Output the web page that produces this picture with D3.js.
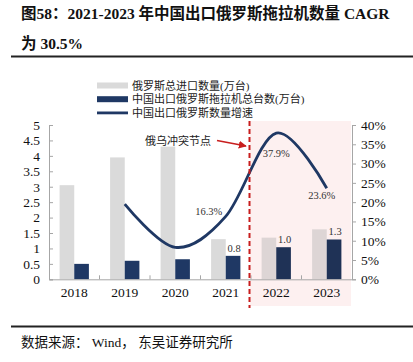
<!DOCTYPE html>
<html>
<head>
<meta charset="utf-8">
<script src="https://cdn.jsdelivr.net/npm/d3@7"></script>
<style>
  body { margin: 0; background: #fff; }
  svg text { font-family: "Liberation Serif", "Noto Sans CJK SC", serif; }
</style>
</head>
<body>
<div id="chart"></div>
<script>
// data
var years = ["2018", "2019", "2020", "2021", "2022", "2023"];
var russiaImports = [3.05, 3.95, 4.3, 1.3, 1.35, 1.62];      // 万台
var chinaExports = [0.5, 0.6, 0.65, 0.76, 1.04, 1.29];       // 万台
var exportLabels = [null, null, null, "0.8", "1.0", "1.3"];
var growthYears = ["2019", "2020", "2021", "2022", "2023"];
var growth = [0.195, 0.083, 0.163, 0.379, 0.236];
var growthLabels = [null, null, "16.3%", "37.9%", "23.6%"];
var leftTicks = [0, 0.5, 1, 1.5, 2, 2.5, 3, 3.5, 4, 4.5, 5];
var rightTicks = [0, 0.05, 0.1, 0.15, 0.2, 0.25, 0.3, 0.35, 0.4];
var legendNames = ["俄罗斯总进口数量(万台)", "中国出口俄罗斯拖拉机总台数(万台)", "中国出口俄罗斯数量增速"];

var W = 413, H = 362;
var grey = "#dadada", navy = "#1f3864", red = "#c81e1e";

var svg = d3.select("#chart").append("svg")
    .attr("width", W).attr("height", H);

// title
var title = svg.append("g").attr("font-weight", "bold").attr("fill", "#111").attr("font-size", 15.5);
title.append("text").attr("x", 21).attr("y", 19).text("图58：2021-2023 年中国出口俄罗斯拖拉机数量 CAGR");
title.append("text").attr("x", 21).attr("y", 49).text("为 30.5%");
svg.append("line").attr("x1", 11).attr("x2", W).attr("y1", 56.5).attr("y2", 56.5)
    .attr("stroke", "#222").attr("stroke-width", 2);

// scales
var x = d3.scaleBand().domain(years).range([49, 352]);
var yL = d3.scaleLinear().domain([0, 5]).range([279.3, 125]);
var yR = d3.scaleLinear().domain([0, 0.4]).range([279.3, 125]);
var barW = x.bandwidth() * 0.29;
function cx(d) { return x(d) + x.bandwidth() / 2; }

// shaded period after the conflict
svg.append("rect").attr("x", 250).attr("y", 121).attr("width", 101).attr("height", 185)
    .attr("fill", "#fdf0f0");

// bars
svg.append("g").selectAll("rect").data(years).enter().append("rect")
    .attr("x", function(d) { return cx(d) - barW; })
    .attr("y", function(d, i) { return yL(russiaImports[i]); })
    .attr("width", barW)
    .attr("height", function(d, i) { return yL(0) - yL(russiaImports[i]); })
    .attr("fill", function(d) { return +d >= 2022 ? "#ddd5d5" : grey; });

svg.append("g").selectAll("rect").data(years).enter().append("rect")
    .attr("x", function(d) { return cx(d); })
    .attr("y", function(d, i) { return yL(chinaExports[i]); })
    .attr("width", barW)
    .attr("height", function(d, i) { return yL(0) - yL(chinaExports[i]); })
    .attr("fill", function(d) { return +d >= 2022 ? "#1f3256" : navy; });

svg.append("g").selectAll("text").data(years).enter().append("text")
    .filter(function(d, i) { return exportLabels[i]; })
    .attr("x", function(d) { return cx(d) + barW / 2 + 1; })
    .attr("y", function(d) { return yL(chinaExports[years.indexOf(d)]) - 4; })
    .attr("text-anchor", "middle").attr("font-size", 10.5).attr("fill", "#333")
    .text(function(d) { return exportLabels[years.indexOf(d)]; });

// axes
var axL = svg.append("g").attr("transform", "translate(49,0)")
    .call(d3.axisRight(yL).tickValues(leftTicks).tickSize(4).tickFormat(d3.format("")));
axL.selectAll("text").attr("x", -9).attr("text-anchor", "end");
var axR = svg.append("g").attr("transform", "translate(352,0)")
    .call(d3.axisRight(yR).tickValues(rightTicks).tickSize(4).tickFormat(d3.format(".0%")));
axR.selectAll("text").attr("x", 9);
var axB = svg.append("g").attr("transform", "translate(0,279.3)")
    .call(d3.axisBottom(x).tickSize(0));
axB.selectAll("text").attr("dy", "1.05em").attr("y", 4);
// category separators
axB.selectAll(".sep").data(years.slice(1)).enter().append("line")
    .attr("x1", function(d) { return x(d); }).attr("x2", function(d) { return x(d); })
    .attr("y1", 0).attr("y2", -4);
[axL, axR, axB].forEach(function(a) {
  a.selectAll("path,line").attr("stroke", "#a6a6a6");
  a.selectAll("text").attr("font-size", 13.5).attr("fill", "#111")
    .attr("font-family", "Liberation Serif");
});

// growth line
var line = d3.line()
    .x(function(d) { return cx(d); })
    .y(function(d, i) { return yR(growth[i]); })
    .curve(d3.curveCatmullRom.alpha(0));
svg.append("path").datum(growthYears).attr("d", line)
    .attr("fill", "none").attr("stroke", navy).attr("stroke-width", 2.8);

var gOff = [null, null, [-17, -1], [0, 24], [-5, 11]];
svg.append("g").selectAll("text").data(growthYears).enter().append("text")
    .filter(function(d, i) { return growthLabels[i]; })
    .attr("x", function(d) { var i = growthYears.indexOf(d); return cx(d) + gOff[i][0]; })
    .attr("y", function(d) { var i = growthYears.indexOf(d); return yR(growth[i]) + gOff[i][1]; })
    .attr("text-anchor", "middle").attr("font-size", 10.5).attr("fill", "#333")
    .text(function(d) { return growthLabels[growthYears.indexOf(d)]; });

// conflict marker
svg.append("line").attr("x1", 249.5).attr("x2", 249.5).attr("y1", 121).attr("y2", 308)
    .attr("stroke", red).attr("stroke-width", 2).attr("stroke-dasharray", "5,3");
svg.append("defs").append("marker").attr("id", "ah")
    .attr("viewBox", "0 0 10 10").attr("refX", 9).attr("refY", 5)
    .attr("markerWidth", 5).attr("markerHeight", 5).attr("orient", "auto")
    .append("path").attr("d", "M0,0L10,5L0,10z").attr("fill", red);
svg.append("line").attr("x1", 217).attr("y1", 140.5).attr("x2", 246).attr("y2", 146)
    .attr("stroke", red).attr("stroke-width", 1.6).attr("marker-end", "url(#ah)");
svg.append("text").attr("x", 145).attr("y", 144.5).attr("font-size", 11).attr("fill", "#222")
    .text("俄乌冲突节点");

// legend
var leg = svg.append("g").attr("font-size", 11).attr("fill", "#222");
legendNames.forEach(function(name, i) {
  var yy = 85.5 + i * 13.7;
  if (i < 2) {
    leg.append("rect").attr("x", 97).attr("y", yy - 3).attr("width", 31).attr("height", 6)
      .attr("fill", i === 0 ? grey : navy);
  } else {
    leg.append("line").attr("x1", 97).attr("x2", 128).attr("y1", yy).attr("y2", yy)
      .attr("stroke", navy).attr("stroke-width", 2.8);
  }
  leg.append("text").attr("x", 132).attr("y", yy + 4).text(name);
});

// source
svg.append("line").attr("x1", 11).attr("x2", W).attr("y1", 326.5).attr("y2", 326.5)
    .attr("stroke", "#222").attr("stroke-width", 2);
svg.append("text").attr("x", 21).attr("y", 346.5).attr("font-size", 13.5).attr("fill", "#111")
    .text("数据来源： Wind， 东吴证券研究所");
</script>
</body>
</html>
